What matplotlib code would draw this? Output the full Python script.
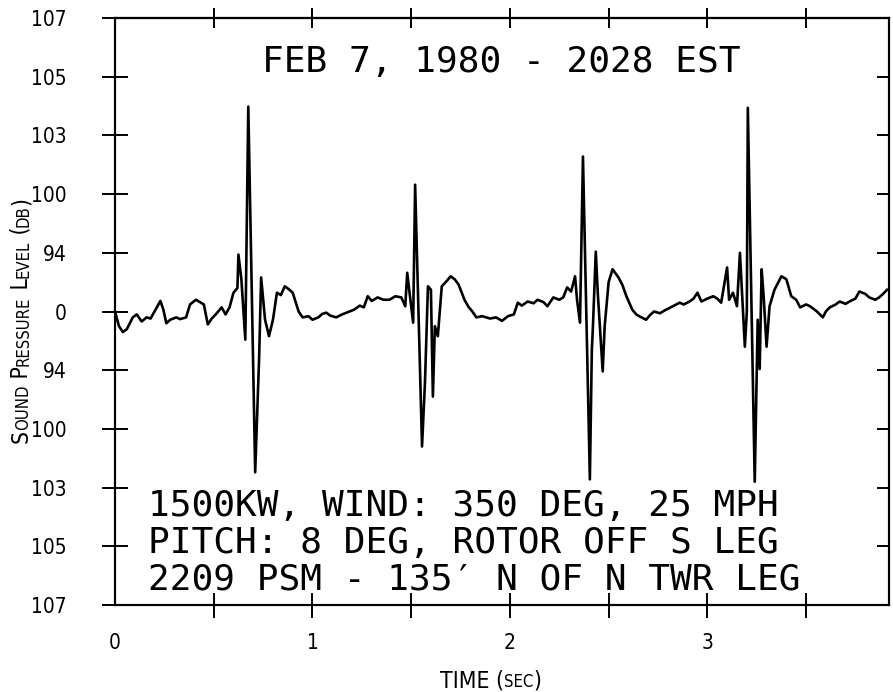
"""Sound pressure trace, Feb 7 1980 - recreated plot."""
import numpy as np
import matplotlib.pyplot as plt

# trace (time in s, level in tick-step units, 0 = baseline)
time_s = [0.00, 0.02, 0.04, 0.06, 0.09, 0.11, 0.135, 0.16, 0.18, 0.20, 0.23, 0.245,
          0.26, 0.28, 0.31, 0.33, 0.36, 0.38, 0.41, 0.43, 0.45, 0.47, 0.49, 0.51,
          0.54, 0.56, 0.58, 0.60, 0.62, 0.625, 0.64,
          0.66, 0.675, 0.71, 0.73, 0.74, 0.76, 0.78, 0.80, 0.82, 0.84, 0.86, 0.88,
          0.90, 0.93, 0.95, 0.98, 1.00, 1.03, 1.05, 1.07, 1.09, 1.12, 1.15, 1.18,
          1.21, 1.24, 1.26, 1.28, 1.30, 1.33, 1.36, 1.39, 1.42, 1.45, 1.47, 1.48,
          1.49, 1.51, 1.52, 1.555, 1.57, 1.585, 1.60, 1.61, 1.62, 1.635, 1.655, 1.68,
          1.70, 1.72, 1.74, 1.77, 1.79, 1.81, 1.83, 1.86, 1.90, 1.93, 1.96, 1.99,
          2.02, 2.04, 2.06, 2.09, 2.12, 2.14, 2.17, 2.19, 2.22, 2.25, 2.27, 2.29,
          2.31, 2.33, 2.34, 2.355, 2.37, 2.405, 2.415, 2.42, 2.435, 2.445, 2.47,
          2.48, 2.50, 2.52, 2.55, 2.57, 2.59, 2.62, 2.64, 2.66, 2.69, 2.71, 2.73,
          2.76, 2.79, 2.82, 2.86, 2.88, 2.91, 2.93, 2.95, 2.97, 3.00, 3.03, 3.05,
          3.07, 3.10, 3.11, 3.13, 3.15, 3.165, 3.19, 3.20, 3.205, 3.24, 3.255,
          3.265, 3.275, 3.285, 3.30, 3.315, 3.34, 3.36, 3.375, 3.40, 3.425, 3.45,
          3.47, 3.50, 3.52, 3.555, 3.585, 3.60, 3.62, 3.65, 3.67, 3.70, 3.72, 3.75,
          3.77, 3.80, 3.82, 3.85, 3.87, 3.89, 3.91]
level = [0.00, -0.25, -0.35, -0.30, -0.10, -0.05, -0.17, -0.10, -0.12, 0.00, 0.18, 0.03,
         -0.20, -0.14, -0.10, -0.13, -0.10, 0.12, 0.20, 0.16, 0.12, -0.22, -0.12, -0.05,
         0.07, -0.05, 0.07, 0.32, 0.40, 0.97, 0.55,
         -0.48, 3.49, -2.74, -0.78, 0.58, -0.14, -0.42, -0.14, 0.32, 0.28, 0.43, 0.38,
         0.32, 0.00, -0.10, -0.08, -0.14, -0.10, -0.04, -0.02, -0.07, -0.10, -0.05, -0.01,
         0.03, 0.10, 0.07, 0.26, 0.18, 0.24, 0.20, 0.20, 0.26, 0.24, 0.09, 0.66,
         0.37, -0.19, 2.16, -2.30, -1.20, 0.43, 0.37, -1.45, -0.25, -0.42, 0.43, 0.52,
         0.60, 0.55, 0.46, 0.20, 0.08, 0.00, -0.10, -0.08, -0.12, -0.10, -0.16, -0.08,
         -0.05, 0.15, 0.10, 0.17, 0.14, 0.20, 0.16, 0.09, 0.24, 0.20, 0.24, 0.41,
         0.34, 0.60, 0.20, -0.19, 2.64, -2.86, -0.65, -0.30, 1.02, 0.32, -1.02,
         -0.25, 0.50, 0.72, 0.58, 0.45, 0.26, 0.03, -0.05, -0.09, -0.14, -0.06, 0.00,
         -0.03, 0.03, 0.08, 0.15, 0.12, 0.17, 0.22, 0.32, 0.17, 0.22, 0.26, 0.22,
         0.15, 0.75, 0.20, 0.32, 0.09, 1.00, -0.60, 0.00, 3.47, -2.90, -0.14,
         -0.98, 0.72, 0.26, -0.60, 0.09, 0.37, 0.50, 0.60, 0.55, 0.26, 0.20,
         0.07, 0.12, 0.09, 0.00, -0.10, 0.00, 0.07, 0.12, 0.17, 0.13, 0.17, 0.22,
         0.34, 0.30, 0.24, 0.20, 0.24, 0.30, 0.37]

ytick_labels = ['107', '105', '103', '100', '94', '0', '94', '100', '103', '105', '107']
xtick_labels = ['0', '1', '2', '3']
header = 'FEB 7, 1980 - 2028 EST'
notes = ['1500KW, WIND: 350 DEG, 25 MPH',
         'PITCH: 8 DEG, ROTOR OFF S LEG',
         '2209 PSM - 135\u2032 N OF N TWR LEG']

W, H = 893, 692
COND = dict(family='DejaVu Sans', stretch='condensed')
MONO = ['DejaVu Sans Mono', 'DejaVu Sans']

fig = plt.figure(figsize=(W / 100, H / 100), dpi=100)
ax = fig.add_axes([115 / W, 1 - 605 / H, (889 - 115) / W, (605 - 18) / H])

ax.plot(time_s, level, color='black', lw=1.9, solid_joinstyle='round')
ax.set_xlim(0, 3.92)
ax.set_ylim(-5, 5)
for sp in ax.spines.values():
    sp.set_linewidth(1.5)

# y axis: evenly spaced ticks with symmetric labels
ax.set_yticks(np.arange(-5, 6), ytick_labels)
ax.tick_params(axis='y', direction='inout', length=19, width=1.4, pad=25, labelsize=15)
for lbl in ax.get_yticklabels():
    lbl.set(**COND)

# x axis: labels at whole seconds, ticks every half second
ax.set_xticks(np.arange(0, 4), xtick_labels)
ax.set_xticks(np.arange(0.5, 4, 1.0), minor=True)
ax.tick_params(axis='x', which='both', direction='inout', length=18, width=1.4,
               pad=11.5, labelsize=15)
for lbl in ax.get_xticklabels():
    lbl.set(**COND)
ax.xaxis.get_major_ticks()[0].tick1line.set_visible(False)

# right side: short inward ticks
ax_r = ax.twinx()
ax_r.set_ylim(-5, 5)
ax_r.set_yticks(np.arange(-4, 5))
ax_r.tick_params(axis='y', direction='in', length=9, width=1.4, labelright=False)
for sp in ax_r.spines.values():
    sp.set_linewidth(1.5)

# top side: crossing ticks every half second
ax_t = ax.secondary_xaxis('top')
ax_t.set_xticks(np.arange(0.5, 3.6, 0.5), [''] * 7)
ax_t.tick_params(direction='inout', length=14, width=1.4)
ax_t.spines['top'].set_linewidth(1.5)


def px(x, y):
    return x / W, 1 - y / H


def small_caps(x, y, parts, vertical=False, big=16.5, small=12):
    """Place pieces of text end to end, centred on (x, y) in pixels."""
    renderer = fig.canvas.get_renderer()
    items = []
    for s, is_big in parts:
        t = fig.text(0, 0, s, fontsize=big if is_big else small, **COND,
                     rotation=90 if vertical else 0, rotation_mode='anchor',
                     ha='left', va='baseline')
        bb = t.get_window_extent(renderer)
        items.append((t, bb.height if vertical else bb.width))
    total = sum(w for _, w in items)
    if vertical:
        pos = (H - y) - total / 2
        for t, w in items:
            t.set_position((x / W, pos / H))
            pos += w
    else:
        pos = x - total / 2
        for t, w in items:
            t.set_position((pos / W, 1 - y / H))
            pos += w


small_caps(28, 320, [('S', True), ('OUND', False), (' P', True), ('RESSURE', False),
                     (' L', True), ('EVEL', False), (' (', True), ('DB', False), (')', True)],
           vertical=True)
small_caps(491, 687, [('TIME (', True), ('SEC', False), (')', True)])

fig.text(*px(501, 72), header, ha='center', va='baseline', family=MONO, fontsize=26)
for i, line in enumerate(notes):
    fig.text(*px(148, 516 + 37 * i), line, ha='left', va='baseline', family=MONO, fontsize=26)

fig.savefig('out.png', dpi=100)
